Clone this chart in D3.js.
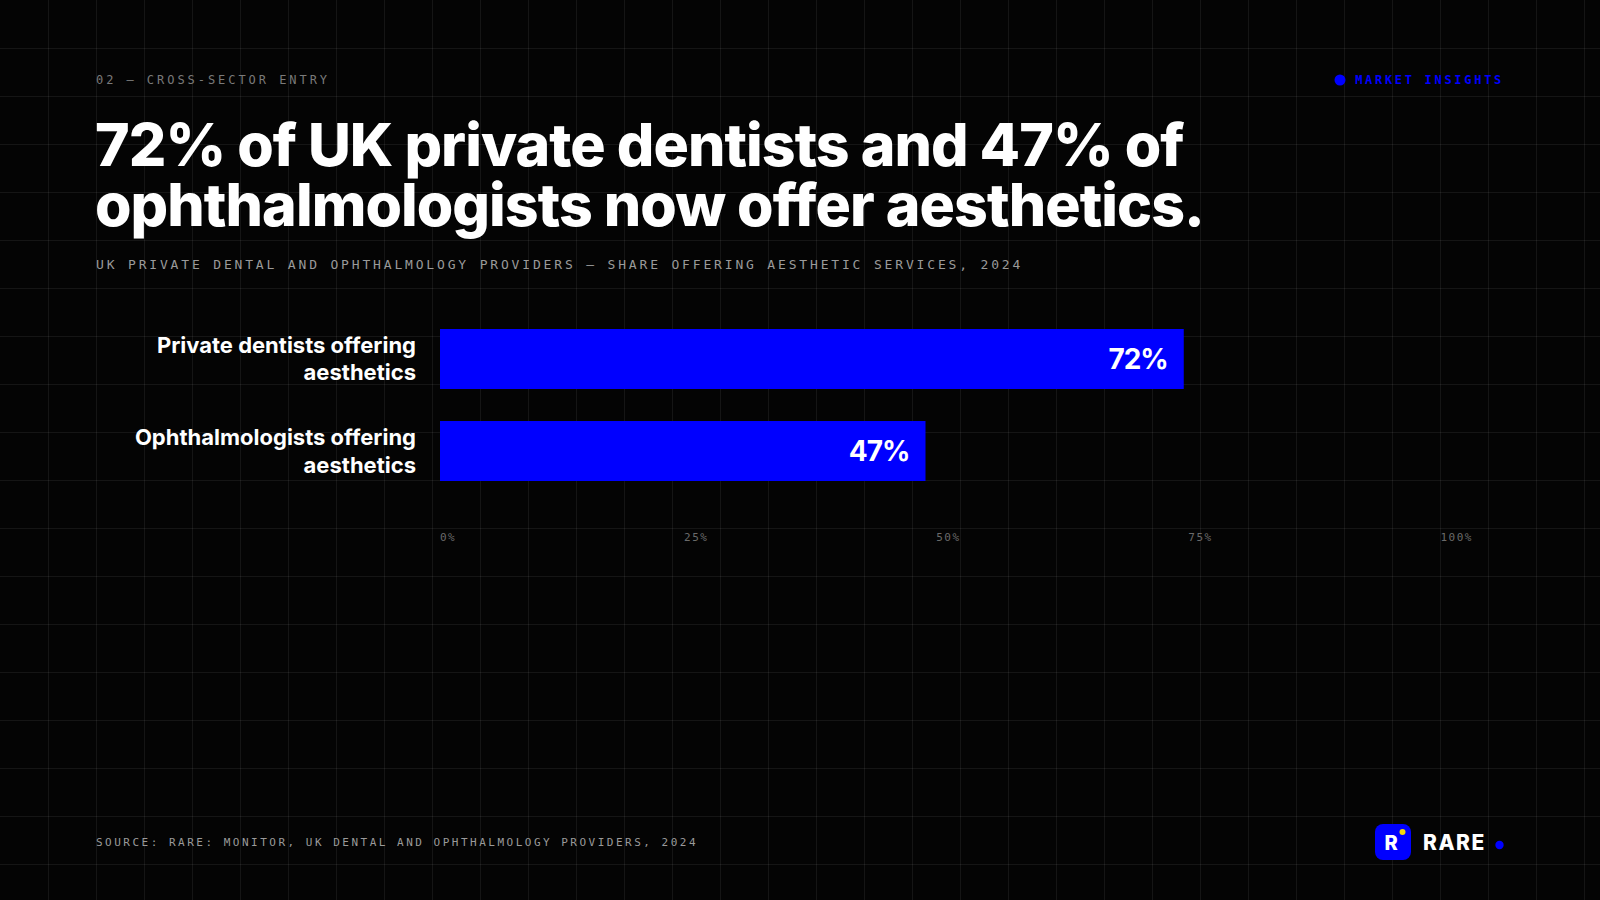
<!DOCTYPE html>
<html>
<head>
<meta charset="utf-8">
<script src="https://cdn.jsdelivr.net/npm/d3@7"></script>
<style>
  html, body { margin: 0; padding: 0; background: #050505; }
  svg { display: block; }
</style>
</head>
<body>
<svg id="chart" width="1600" height="900"></svg>
<script>
// ---- data ----
const categories = ["Private dentists offering|aesthetics", "Ophthalmologists offering|aesthetics"];
const values = [72, 47];
const tickValues = [0, 25, 50, 75, 100];
const tickLabels = ["0%", "25%", "50%", "75%", "100%"];
const eyebrow = "02 — CROSS-SECTOR ENTRY";
const badge = "MARKET INSIGHTS";
const titleLines = ["72% of UK private dentists and 47% of", "ophthalmologists now offer aesthetics."];
const subtitle = "UK PRIVATE DENTAL AND OPHTHALMOLOGY PROVIDERS — SHARE OFFERING AESTHETIC SERVICES, 2024";
const source = "SOURCE: RARE: MONITOR, UK DENTAL AND OPHTHALMOLOGY PROVIDERS, 2024";
const brand = "RARE";

// ---- setup ----
const W = 1600, H = 900;
const BLUE = "#0000ff";
const MONO = "'DejaVu Sans Mono', 'Liberation Mono', monospace";
const SANS = "Inter, 'Noto Sans', sans-serif";
const svg = d3.select("#chart");

svg.append("rect").attr("width", W).attr("height", H).attr("fill", "#040404");

// background grid
const grid = svg.append("g").attr("stroke", "#ffffff").attr("stroke-opacity", 0.07).attr("stroke-width", 1);
grid.selectAll("line.v").data(d3.range(48, W, 48)).join("line")
  .attr("x1", d => d + 0.5).attr("x2", d => d + 0.5).attr("y1", 0).attr("y2", H);
grid.selectAll("line.h").data(d3.range(48, H, 48)).join("line")
  .attr("y1", d => d + 0.5).attr("y2", d => d + 0.5).attr("x1", 0).attr("x2", W);

// eyebrow
svg.append("text").attr("x", 96).attr("y", 84)
  .attr("font-family", MONO).attr("font-size", 12).attr("letter-spacing", "2.95px")
  .attr("fill", "#7a7a7a").text(eyebrow);

// badge
svg.append("circle").attr("cx", 1340).attr("cy", 80).attr("r", 5.5).attr("fill", BLUE);
svg.append("text").attr("x", 1504).attr("y", 84).attr("text-anchor", "end")
  .attr("font-family", MONO).attr("font-size", 12).attr("font-weight", 700).attr("letter-spacing", "2.7px")
  .attr("fill", BLUE).text(badge);

// title
const title = svg.append("text").attr("font-family", SANS).attr("font-weight", 800)
  .attr("font-size", 59).attr("letter-spacing", "-0.95px").attr("fill", "#ffffff");
titleLines.forEach((t, i) => {
  title.append("tspan").attr("x", 95).attr("y", 166 + i * 59.5).text(t);
});

// subtitle
svg.append("text").attr("x", 96).attr("y", 269)
  .attr("font-family", MONO).attr("font-size", 13).attr("letter-spacing", "2.83px")
  .attr("fill", "#9a9a9a").text(subtitle);

// ---- chart ----
const x = d3.scaleLinear().domain([0, 100]).range([440, 1473]);
const y = d3.scaleBand().domain(categories).range([329, 481]).paddingInner(0.348).paddingOuter(0);

const bars = svg.append("g");
bars.selectAll("rect").data(values).join("rect")
  .attr("x", x(0))
  .attr("y", (d, i) => y(categories[i]))
  .attr("width", d => x(d) - x(0))
  .attr("height", y.bandwidth())
  .attr("fill", BLUE);

bars.selectAll("text.val").data(values).join("text").attr("class", "val")
  .attr("x", d => x(d) - 16)
  .attr("y", (d, i) => y(categories[i]) + y.bandwidth() / 2 + 10)
  .attr("text-anchor", "end")
  .attr("font-family", SANS).attr("font-weight", 700).attr("font-size", 28).attr("letter-spacing", "-1px")
  .attr("fill", "#ffffff").text(d => d + "%");

// category labels
const labels = svg.append("g");
categories.forEach((c, i) => {
  const parts = c.split("|");
  const cy = y(c) + y.bandwidth() / 2;
  const t = labels.append("text").attr("text-anchor", "end")
    .attr("font-family", SANS).attr("font-weight", 700).attr("font-size", 22).attr("letter-spacing", "0px")
    .attr("fill", "#ffffff");
  parts.forEach((p, j) => {
    t.append("tspan").attr("x", 416).attr("y", cy - 6 + j * 27.5).text(p);
  });
});

// x-axis tick labels, laid out like a space-between row across the scale range
const axisG = svg.append("g");
const tickTexts = axisG.selectAll("text").data(tickValues).join("text")
  .attr("y", 541)
  .attr("font-family", MONO).attr("font-size", 11).attr("letter-spacing", "1.5px")
  .attr("fill", "#6a6a6a").text((d, i) => tickLabels[i]);
const widths = [];
tickTexts.each(function () { widths.push(this.getComputedTextLength()); });
const [r0, r1] = x.range();
const gap = (r1 - r0 - d3.sum(widths)) / (widths.length - 1);
let cursor = r0;
tickTexts.attr("x", (d, i) => { const pos = cursor; cursor += widths[i] + gap; return pos; });

// source
svg.append("text").attr("x", 96).attr("y", 846)
  .attr("font-family", MONO).attr("font-size", 11).attr("letter-spacing", "2.5px")
  .attr("fill", "#9a9a9a").text(source);

// logo
const logo = svg.append("g");
logo.append("rect").attr("x", 1375).attr("y", 824).attr("width", 36).attr("height", 36).attr("rx", 8).attr("fill", BLUE);
logo.append("text").attr("x", 1391).attr("y", 850).attr("text-anchor", "middle")
  .attr("font-family", SANS).attr("font-weight", 800).attr("font-size", 20).attr("fill", "#ffffff").text("R");
logo.append("circle").attr("cx", 1402.5).attr("cy", 832).attr("r", 3).attr("fill", "#f5d90a");
logo.append("text").attr("x", 1423).attr("y", 850)
  .attr("font-family", SANS).attr("font-weight", 800).attr("font-size", 21).attr("letter-spacing", "1.5px")
  .attr("fill", "#ffffff").text(brand);
logo.append("circle").attr("cx", 1499.5).attr("cy", 845).attr("r", 4.2).attr("fill", BLUE);
</script>
</body>
</html>
